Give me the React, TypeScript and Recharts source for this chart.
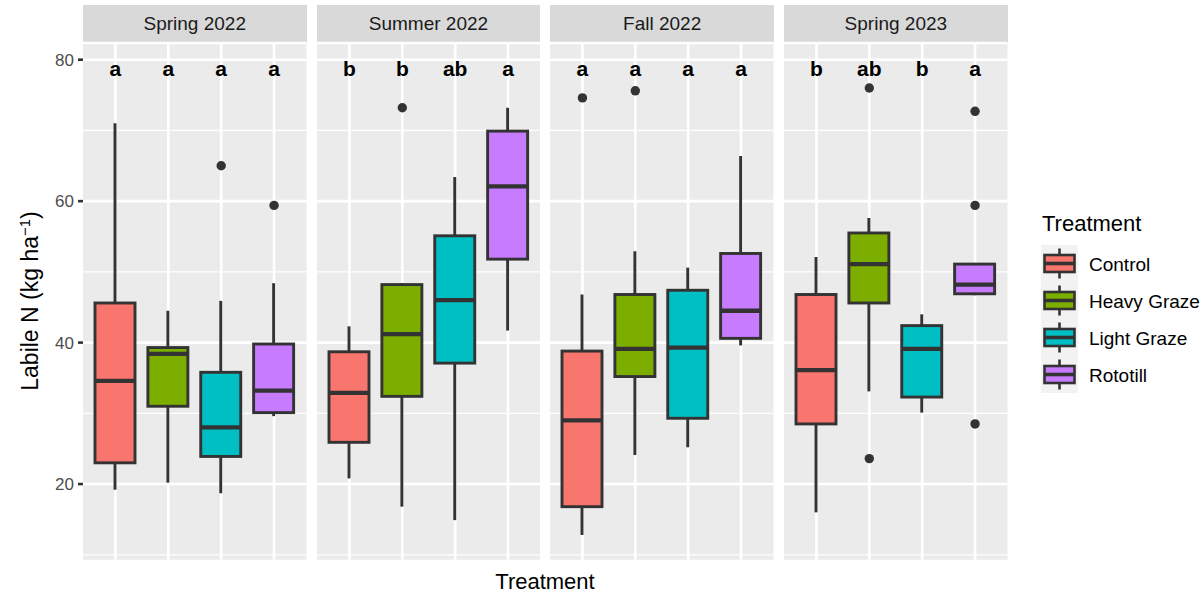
import React from 'react'
import {
  ComposedChart,
  Bar,
  Scatter,
  XAxis,
  YAxis,
  CartesianGrid,
  ReferenceLine,
} from 'recharts'

const seasons = ['Spring 2022', 'Summer 2022', 'Fall 2022', 'Spring 2023']
const treatments = ['Control', 'Heavy Graze', 'Light Graze', 'Rototill']
const fills = ['#F8766D', '#7CAE00', '#00BFC4', '#C77CFF']

// [season][treatment]
const lowerWhisker = [
  [19.2, 20.2, 18.7, 29.6],
  [20.8, 16.8, 14.9, 41.7],
  [12.8, 24.1, 25.2, 39.6],
  [16.0, 33.1, 30.1, 46.7],
]
const lowerHinge = [
  [23.0, 31.0, 23.9, 30.1],
  [25.9, 32.4, 37.1, 51.8],
  [16.8, 35.2, 29.3, 40.6],
  [28.5, 45.6, 32.3, 46.9],
]
const medians = [
  [34.6, 38.4, 28.0, 33.2],
  [32.9, 41.2, 46.0, 62.1],
  [29.0, 39.1, 39.3, 44.5],
  [36.1, 51.1, 39.1, 48.2],
]
const upperHinge = [
  [45.6, 39.3, 35.8, 39.8],
  [38.7, 48.2, 55.1, 69.9],
  [38.8, 46.8, 47.4, 52.6],
  [46.8, 55.5, 42.4, 51.1],
]
const upperWhisker = [
  [71.0, 44.5, 45.9, 48.4],
  [42.3, 48.4, 63.4, 73.2],
  [46.8, 52.9, 50.6, 66.4],
  [52.1, 57.6, 44.0, 51.1],
]
const outliers: number[][][] = [
  [[], [], [65.0], [59.4]],
  [[], [73.2], [], []],
  [[74.6], [75.6], [], []],
  [[], [76.0, 23.6], [], [72.7, 59.4, 28.5]],
]
const letters = [
  ['a', 'a', 'a', 'a'],
  ['b', 'b', 'ab', 'a'],
  ['a', 'a', 'a', 'a'],
  ['b', 'ab', 'b', 'a'],
]
const majorTicks = [20, 40, 60, 80]
const minorTicks = [10, 30, 50, 70]

const FONT = '"Liberation Sans", Arial, Helvetica, sans-serif'
const DARK = '#333333'
const AXIS_W = 83
const PANEL_W = 223.5
const PANEL_STEP = 233.7
const TOP = 43
const BOTTOM = 33
const H = 594
const Y_DOMAIN: [number, number] = [9.12, 82.36]
const LETTER_Y = 77.7

const BoxShape = (props: any) => {
  const { x, y, width, height, payload } = props
  const [q1, q3] = payload.box
  const top = Math.min(y, y + height)
  const h = Math.abs(height)
  const k = h / (q3 - q1)
  const yv = (v: number) => top + (q3 - v) * k
  const cx = x + width / 2
  return (
    <g>
      <line x1={cx} x2={cx} y1={yv(payload.hi)} y2={top} stroke={DARK} strokeWidth={2.9} />
      <line x1={cx} x2={cx} y1={top + h} y2={yv(payload.lo)} stroke={DARK} strokeWidth={2.9} />
      <rect x={x} y={top} width={width} height={h} fill={fills[payload.idx]} stroke={DARK} strokeWidth={2.9} />
      <line x1={x} x2={x + width} y1={yv(payload.med)} y2={yv(payload.med)} stroke={DARK} strokeWidth={4.3} />
    </g>
  )
}

const OutlierDot = (props: any) => {
  const { cx, cy } = props
  if (cx == null || cy == null || !Number.isFinite(cy)) return <g />
  return <circle cx={cx} cy={cy} r={4.7} fill={DARK} />
}

const LetterMark = (props: any) => {
  const { cx, cy, payload } = props
  if (cx == null || cy == null) return <g />
  return (
    <text x={cx} y={cy} textAnchor="middle" fontWeight="bold" fontSize={21} fill="#000" fontFamily={FONT}>
      {payload.letter}
    </text>
  )
}

function Panel({ s }: { s: number }) {
  const rows = treatments.map((t, i) => ({
    treatment: t,
    idx: i,
    box: [lowerHinge[s][i], upperHinge[s][i]],
    lo: lowerWhisker[s][i],
    med: medians[s][i],
    hi: upperWhisker[s][i],
    letter: letters[s][i],
    letterY: LETTER_Y,
    o0: outliers[s][i][0],
    o1: outliers[s][i][1],
    o2: outliers[s][i][2],
  }))
  const first = s === 0
  const left = first ? 0 : AXIS_W + s * PANEL_STEP
  const w = first ? AXIS_W + PANEL_W : PANEL_W

  return (
    <div style={{ position: 'absolute', left, top: 0 }}>
      <div
        style={{
          position: 'absolute',
          left: first ? AXIS_W : 0,
          top: 5,
          width: PANEL_W,
          height: 38,
          background: '#D9D9D9',
          display: 'flex',
          alignItems: 'center',
          justifyContent: 'center',
          color: '#1A1A1A',
          fontSize: 19,
        }}
      >
        {seasons[s]}
      </div>
      <ComposedChart width={w} height={H} data={rows} margin={{ top: TOP, right: 0, bottom: BOTTOM, left: 0 }}>
        <CartesianGrid vertical={false} stroke="#FFFFFF" strokeWidth={2.6} fill="#EBEBEB" fillOpacity={1} />
        <XAxis dataKey="treatment" hide padding={{ left: 6, right: 6 }} />
        <YAxis
          hide={!first}
          width={AXIS_W}
          domain={Y_DOMAIN}
          allowDataOverflow
          ticks={majorTicks}
          interval={0}
          axisLine={false}
          tickSize={5}
          tickMargin={4}
          tickLine={{ stroke: DARK, strokeWidth: 2.6 }}
          tick={{ fill: '#4D4D4D', fontSize: 17, fontFamily: FONT }}
        />
        {minorTicks.map((v) => (
          <ReferenceLine key={'m' + v} y={v} stroke="#FFFFFF" strokeWidth={1.3} zIndex={-90} />
        ))}
        {treatments.map((t) => (
          <ReferenceLine key={t} x={t} stroke="#FFFFFF" strokeWidth={2.6} zIndex={-90} />
        ))}
        <Bar dataKey="box" barSize={40} shape={BoxShape} isAnimationActive={false} />
        <Scatter dataKey="o0" shape={OutlierDot} isAnimationActive={false} />
        <Scatter dataKey="o1" shape={OutlierDot} isAnimationActive={false} />
        <Scatter dataKey="o2" shape={OutlierDot} isAnimationActive={false} />
        <Scatter dataKey="letterY" shape={LetterMark} isAnimationActive={false} />
      </ComposedChart>
    </div>
  )
}

export default function App() {
  const keyTop = 245
  const keyH = 37
  return (
    <div
      style={{
        position: 'absolute',
        left: 0,
        top: 0,
        width: 1204,
        height: 594,
        background: '#FFFFFF',
        fontFamily: FONT,
        overflow: 'hidden',
      }}
    >
      {seasons.map((_, s) => (
        <Panel key={s} s={s} />
      ))}
      <svg
        width={1204}
        height={594}
        style={{ position: 'absolute', left: 0, top: 0, pointerEvents: 'none' }}
        fontFamily={FONT}
      >
        <text transform="translate(38,301) rotate(-90)" textAnchor="middle" fontSize={23} fill="#000">
          Labile N (kg ha
          <tspan dy={-8} fontSize={15}>
            −1
          </tspan>
          <tspan dy={8}>)</tspan>
        </text>
        <text x={545} y={589} textAnchor="middle" fontSize={22} fill="#000">
          Treatment
        </text>
        <text x={1042} y={230.5} fontSize={22} fill="#000">
          Treatment
        </text>
        {treatments.map((t, i) => {
          const top = keyTop + i * keyH
          const yc = top + keyH / 2
          return (
            <g key={t}>
              <rect x={1041} y={top} width={37} height={keyH} fill="#F2F2F2" />
              <line x1={1059.5} x2={1059.5} y1={yc - 15} y2={yc + 15} stroke={DARK} strokeWidth={2.6} />
              <rect x={1044.5} y={yc - 8.5} width={30} height={17} fill={fills[i]} stroke={DARK} strokeWidth={2.6} />
              <line x1={1044.5} x2={1074.5} y1={yc} y2={yc} stroke={DARK} strokeWidth={3.6} />
              <text x={1089} y={yc + 7} fontSize={19} fill="#000">
                {t}
              </text>
            </g>
          )
        })}
      </svg>
    </div>
  )
}
